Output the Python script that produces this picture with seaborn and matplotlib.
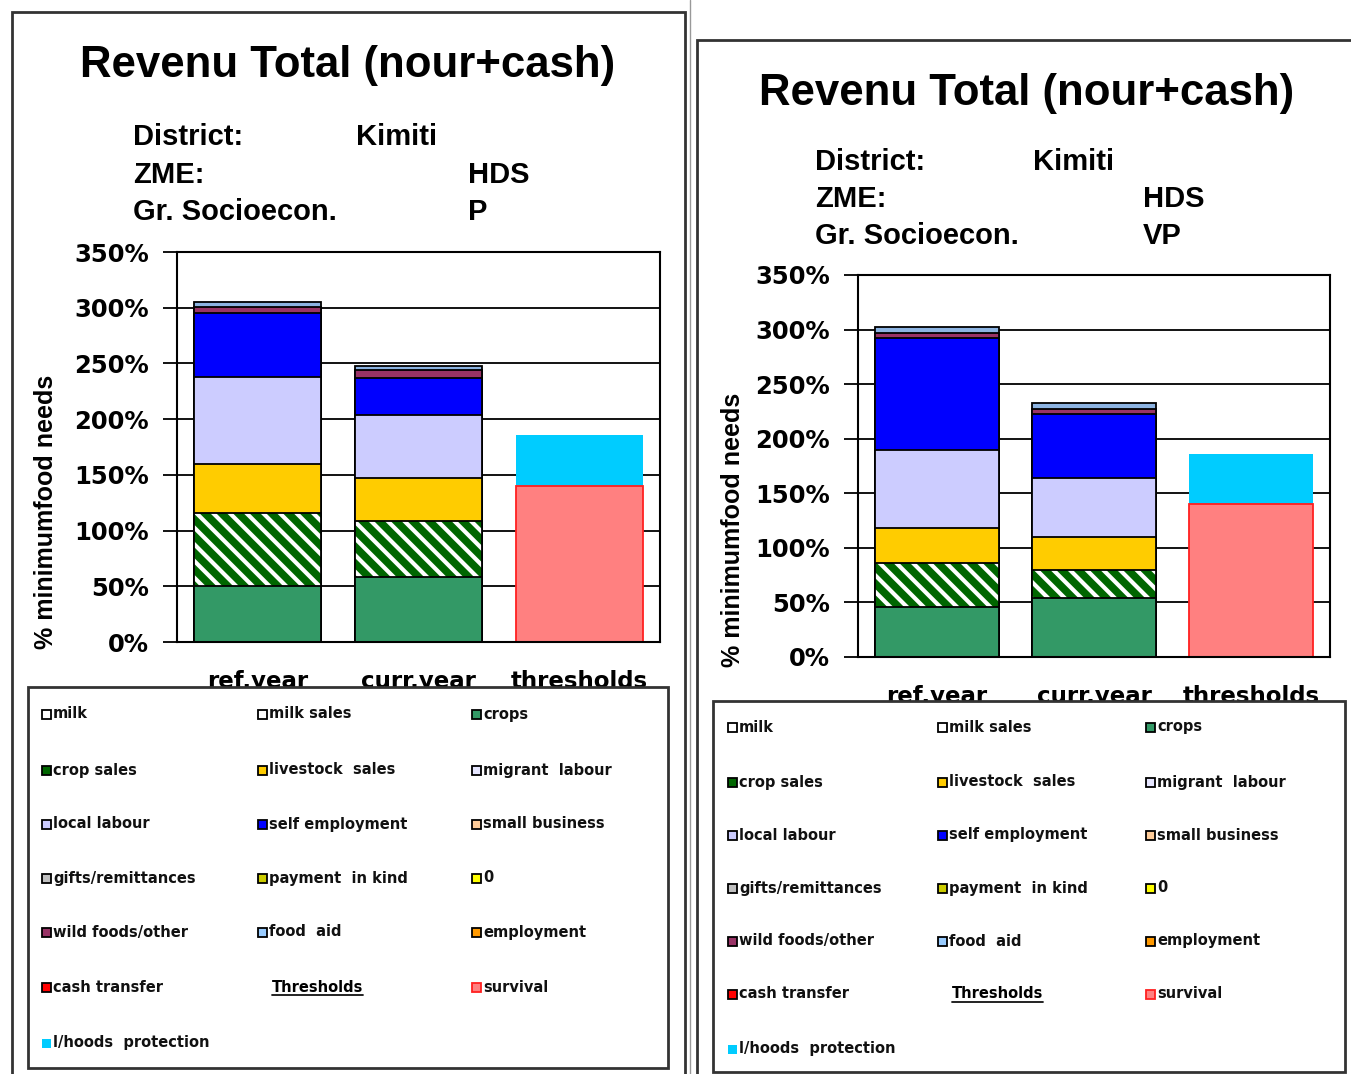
"""
Revenu Total (nour+cash) - two stacked bar panels, Kimiti HDS (P and VP).
"""

import numpy as np
import pandas as pd
import matplotlib
matplotlib.use("Agg")
import matplotlib.pyplot as plt
import seaborn as sns
from matplotlib.patches import Rectangle
from matplotlib.lines import Line2D

sns.set_theme(style="white")
plt.rcParams['font.family'] = ['Liberation Sans', 'DejaVu Sans']
plt.rcParams['hatch.linewidth'] = 3.0
plt.rcParams['text.color'] = 'black'
plt.rcParams['axes.labelcolor'] = 'black'
plt.rcParams['xtick.color'] = 'black'
plt.rcParams['ytick.color'] = 'black'

W, H = 1351, 1074

categories = ['ref.year', 'curr.year', 'thresholds']
yticks = [0, 50, 100, 150, 200, 250, 300, 350]

# left panel (P)
p_crops = [50, 58, 0]
p_crop_sales = [66, 51, 0]
p_livestock_sales = [44, 38, 0]
p_local_labour = [78, 57, 0]
p_self_employment = [57, 33, 0]
p_wild_foods = [6, 7, 0]
p_food_aid = [4.5, 4, 0]
p_survival = [0, 0, 140]
p_protection = [0, 0, 46]

# right panel (VP)
vp_crops = [46, 54, 0]
vp_crop_sales = [40, 26, 0]
vp_livestock_sales = [32, 30, 0]
vp_local_labour = [72, 54, 0]
vp_self_employment = [102, 59, 0]
vp_wild_foods = [4.5, 4.5, 0]
vp_food_aid = [5.5, 5.5, 0]
vp_survival = [0, 0, 140]
vp_protection = [0, 0, 46]

legend_labels = ['milk', 'milk sales', 'crops',
                 'crop sales', 'livestock  sales', 'migrant  labour',
                 'local labour', 'self employment', 'small business',
                 'gifts/remittances', 'payment  in kind', '0',
                 'wild foods/other', 'food  aid', 'employment',
                 'cash transfer', 'Thresholds', 'survival',
                 'l/hoods  protection']
legend_colors = ['white', 'white', '#339966',
                 '#006600', '#FFCC00', '#E6E6FF',
                 '#CCCCFF', '#0000FF', '#FFCC99',
                 '#C0C0C0', '#CCCC00', '#FFFF00',
                 '#993366', '#99CCFF', '#FF9900',
                 '#FF0000', None, '#FF8080',
                 '#00CCFF']

# layer styles (bottom to top)
layer_styles = [
    dict(color='#339966', edge='black', hatch=None),   # crops
    dict(color='#006600', edge='black', hatch='\\\\'),  # crop sales
    dict(color='#FFCC00', edge='black', hatch=None),   # livestock sales
    dict(color='#CCCCFF', edge='black', hatch=None),   # local labour
    dict(color='#0000FF', edge='black', hatch=None),   # self employment
    dict(color='#993366', edge='black', hatch=None),   # wild foods/other
    dict(color='#8DB4E2', edge='black', hatch=None),   # food aid
    dict(color='#FF8080', edge='#FF2020', hatch=None),  # survival
    dict(color='#00CCFF', edge='none', hatch=None),    # l/hoods protection
]


def fx(x):
    return x / W


def fy(y):
    return 1 - y / H


def draw_stack(ax, layers):
    cum = np.cumsum(np.array(layers, dtype=float), axis=0)
    # draw from the top layer down so lower ones overlay
    for i in range(len(layers) - 1, -1, -1):
        vals = np.array(layers[i], dtype=float)
        keep = vals > 0
        if not keep.any():
            continue
        df = pd.DataFrame({'cat': np.array(categories)[keep], 'top': cum[i][keep]})
        st = layer_styles[i]
        n0 = len(ax.patches)
        sns.barplot(data=df, x='cat', y='top', order=categories, color=st['color'],
                    saturation=1, width=0.79, errorbar=None, ax=ax,
                    edgecolor=st['edge'], linewidth=1.3 if st['edge'] != 'none' else 0)
        if st['hatch']:
            for p in ax.patches[n0:]:
                p.set_hatch(st['hatch'])
                p.set_edgecolor('white')
                p.set_linewidth(0)
                ax.add_patch(Rectangle(p.get_xy(), p.get_width(), p.get_height(),
                                       fill=False, edgecolor='black', linewidth=1.3))


def style_axes(ax, label_x, label_y):
    ax.set_ylim(0, 350)
    ax.set_xlim(-0.5, 2.5)
    ax.set_yticks(yticks)
    ax.set_yticklabels([f'{v}%' for v in yticks], family='DejaVu Sans',
                       fontweight='bold', fontsize=17.5)
    ax.set_xticks(range(3))
    ax.set_xticklabels(categories, family='DejaVu Sans', fontweight='bold', fontsize=16.5)
    ax.set_xticks([-0.5, 0.5, 1.5, 2.5], minor=True)
    ax.tick_params(axis='x', which='major', length=0, pad=20)
    ax.tick_params(axis='x', which='minor', direction='out', length=5, width=1.3,
                   color='black')
    ax.tick_params(axis='y', direction='out', length=10, width=1.3, color='black',
                   pad=10, left=True)
    ax.set_axisbelow(True)
    ax.yaxis.grid(True, color='black', linewidth=1.3)
    ax.xaxis.grid(False)
    for s in ax.spines.values():
        s.set_color('black')
        s.set_linewidth(1.5)
        s.set_visible(True)
    ax.set_xlabel('')
    ax.set_ylabel('% minimumfood needs', fontsize=18, fontweight='bold', color='black')
    ax.yaxis.set_label_coords(label_x, label_y)


def draw_panel(fig, frame, ax_box, layers, title_xy, info, legend_box, cols, rows,
               label_xy):
    # panel frame
    x0, y0, x1, y1 = frame
    fig.add_artist(Rectangle((fx(x0), fy(y1)), fx(x1 - x0), (y1 - y0) / H,
                             transform=fig.transFigure, fill=False,
                             edgecolor='#333333', linewidth=2, zorder=0.5))

    ax = fig.add_axes([fx(ax_box[0]), fy(ax_box[3]), fx(ax_box[2] - ax_box[0]),
                       (ax_box[3] - ax_box[1]) / H])
    draw_stack(ax, layers)
    style_axes(ax, *label_xy)

    fig.text(fx(title_xy[0]), fy(title_xy[1]), 'Revenu Total (nour+cash)',
             fontsize=31.5, fontweight='bold', ha='center', va='center')
    for (x, y, s) in info:
        fig.text(fx(x), fy(y), s, fontsize=21, fontweight='bold', ha='left',
                 va='center')

    # legend box
    lx0, ly0, lx1, ly1 = legend_box
    fig.add_artist(Rectangle((fx(lx0), fy(ly1)), fx(lx1 - lx0), (ly1 - ly0) / H,
                             transform=fig.transFigure, facecolor='white',
                             edgecolor='#333333', linewidth=2, zorder=2))
    for k, (lab, col) in enumerate(zip(legend_labels, legend_colors)):
        cx = cols[k % 3]
        cy = rows[k // 3]
        if col is None:
            t = fig.text(fx(cx + 14), fy(cy), lab, fontsize=10.5, fontweight='bold',
                         family='DejaVu Sans', ha='left', va='center', zorder=3)
            fig.canvas.draw()
            bb = t.get_window_extent().transformed(fig.transFigure.inverted())
            fig.add_artist(Line2D([bb.x0, bb.x1], [bb.y0, bb.y0], color='#111111',
                                  linewidth=1.3, transform=fig.transFigure, zorder=3))
            continue
        ec = 'none' if lab.startswith('l/hoods') else ('#FF2020' if lab == 'survival' else 'black')
        fig.add_artist(Rectangle((fx(cx), fy(cy + 5)), fx(9), 9 / H,
                                 transform=fig.transFigure, facecolor=col,
                                 edgecolor=ec, linewidth=1.3, zorder=3))
        fig.text(fx(cx + 11), fy(cy), lab, fontsize=10.5, fontweight='bold',
                 family='DejaVu Sans', color='#111111', ha='left', va='center',
                 zorder=3)
    return ax


fig = plt.figure(figsize=(W / 100, H / 100), dpi=100)
fig.patch.set_facecolor('white')

# thin separator between the two sheets
fig.add_artist(Line2D([fx(690), fx(690)], [0, 1], color='#999999', linewidth=1,
                      transform=fig.transFigure, zorder=0.4))

p_layers = [p_crops, p_crop_sales, p_livestock_sales, p_local_labour,
            p_self_employment, p_wild_foods, p_food_aid, p_survival, p_protection]
vp_layers = [vp_crops, vp_crop_sales, vp_livestock_sales, vp_local_labour,
             vp_self_employment, vp_wild_foods, vp_food_aid, vp_survival, vp_protection]

draw_panel(fig, (12, 12, 685, 1085), (177, 252, 660, 642), p_layers, (348, 66),
           [(133, 137, 'District:'), (356, 137, 'Kimiti'),
            (133, 175, 'ZME:'), (468, 175, 'HDS'),
            (133, 212, 'Gr. Socioecon.'), (468, 212, 'P')],
           (28, 687, 668, 1068), [42, 258, 472],
           [714, 770, 824, 878, 932, 987, 1043], (-0.246, 0.333))

draw_panel(fig, (697, 40, 1360, 1085), (858, 275, 1330, 657), vp_layers, (1027, 93),
           [(815, 162, 'District:'), (1033, 162, 'Kimiti'),
            (815, 199, 'ZME:'), (1143, 199, 'HDS'),
            (815, 236, 'Gr. Socioecon.'), (1143, 236, 'VP')],
           (713, 701, 1345, 1072), [728, 938, 1146],
           [727, 782, 835, 888, 941, 994, 1049], (-0.239, 0.332))

fig.savefig('out.png', dpi=100)
